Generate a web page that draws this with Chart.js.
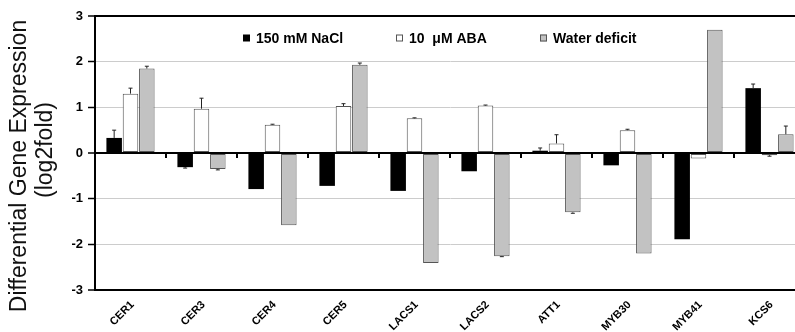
<!DOCTYPE html>
<html>
<head>
<meta charset="utf-8">
<script src="https://cdn.jsdelivr.net/npm/chart.js@4"></script>
<style>
html,body{margin:0;padding:0;overflow:hidden;background:#fff}
#wrap{width:810px;height:332px}
</style>
</head>
<body>
<div id="wrap"><canvas id="chart"></canvas></div>
<script>
const genes = ['CER1','CER3','CER4','CER5','LACS1','LACS2','ATT1','MYB30','MYB41','KCS6']
const seriesNames = ['150 mM NaCl', '10  \u03bcM ABA', 'Water deficit']

const nacl  = [0.33, -0.31, -0.79, -0.72, -0.83, -0.40, 0.05, -0.27, -1.89, 1.42]
const aba   = [1.30, 0.97, 0.62, 1.03, 0.76, 1.04, 0.21, 0.50, -0.12, -0.05]
const water = [1.85, -0.35, -1.58, 1.93, -2.41, -2.26, -1.30, -2.20, 2.70, 0.41]

const naclErr  = [0.17, 0.02, 0, 0, 0, 0, 0.06, 0, 0, 0.09]
const abaErr   = [0.12, 0.23, 0.01, 0.05, 0.01, 0.01, 0.19, 0.02, 0, 0.02]
const waterErr = [0.05, 0.02, 0, 0.04, 0, 0.01, 0.02, 0, 0, 0.18]

const yMin = -3, yMax = 3
const errs = [naclErr, abaErr, waterErr]

const font = 'Liberation Sans, Arial, sans-serif'

const extras = {
  id: 'extras',
  afterDatasetsDraw(chart) {
    const {ctx, chartArea, scales: {x, y}} = chart
    ctx.save()
    // error bars
    chart.data.datasets.forEach((ds, di) => {
      const meta = chart.getDatasetMeta(di)
      meta.data.forEach((bar, i) => {
        const v = ds.data[i], e = errs[di][i]
        if (!e) return
        const end = y.getPixelForValue(v + (v >= 0 ? e : -e))
        ctx.strokeStyle = '#222'
        ctx.lineWidth = 1
        ctx.beginPath()
        ctx.moveTo(bar.x, bar.y)
        ctx.lineTo(bar.x, end)
        ctx.moveTo(bar.x - 2, end)
        ctx.lineTo(bar.x + 2, end)
        ctx.stroke()
      })
    })
    // zero axis on top of bars
    const y0 = y.getPixelForValue(0)
    ctx.strokeStyle = '#000'
    ctx.lineWidth = 2
    ctx.beginPath()
    ctx.moveTo(chartArea.left, y0)
    ctx.lineTo(chartArea.right, y0)
    for (let i = 1; i < genes.length; i++) {
      const bx = (x.getPixelForValue(i - 1) + x.getPixelForValue(i)) / 2
      ctx.moveTo(bx, y0)
      ctx.lineTo(bx, y0 + 5)
    }
    ctx.stroke()
    ctx.restore()
  },
  afterDraw(chart) {
    const {ctx, chartArea, scales: {x}} = chart
    ctx.save()
    ctx.fillStyle = '#000'
    // category labels, rotated
    ctx.font = 'bold 11px ' + font
    ctx.textAlign = 'right'
    ctx.textBaseline = 'middle'
    genes.forEach((g, i) => {
      ctx.save()
      ctx.translate(x.getPixelForValue(i) + 2, chartArea.bottom + 13)
      ctx.rotate(-Math.PI / 4)
      ctx.fillText(g, 0, 0)
      ctx.restore()
    })
    // legend inside plot
    const lx = [243, 396, 540], ly = 38
    ctx.font = 'bold 14px ' + font
    ctx.textAlign = 'left'
    chart.data.datasets.forEach((ds, i) => {
      ctx.fillStyle = ds.backgroundColor
      ctx.fillRect(lx[i], ly - 3.5, 7, 7)
      if (ds.borderWidth) {
        ctx.strokeStyle = ds.borderColor
        ctx.lineWidth = 1
        ctx.strokeRect(lx[i] + 0.5, ly - 3, 6, 6)
      }
      ctx.fillStyle = '#000'
      ctx.fillText(ds.label, lx[i] + 13, ly + 1)
    })
    // y axis title
    ctx.font = '23px ' + font
    ctx.textAlign = 'center'
    ctx.fillStyle = '#111'
    ctx.save()
    ctx.translate(20, 166)
    ctx.rotate(-Math.PI / 2)
    ctx.fillText('Differential Gene Expression', 0, 0)
    ctx.restore()
    ctx.save()
    ctx.translate(46, 150)
    ctx.rotate(-Math.PI / 2)
    ctx.fillText('(log2fold)', 0, 0)
    ctx.restore()
    ctx.restore()
  }
}

new Chart(document.getElementById('chart'), {
  type: 'bar',
  data: {
    labels: genes,
    datasets: [
      {label: seriesNames[0], data: nacl, backgroundColor: '#000', borderWidth: 0},
      {label: seriesNames[1], data: aba, backgroundColor: '#fff', borderColor: '#555', borderWidth: 1, borderSkipped: false},
      {label: seriesNames[2], data: water, backgroundColor: '#c2c2c2', borderColor: '#555', borderWidth: 1, borderSkipped: false}
    ]
  },
  options: {
    responsive: true,
    maintainAspectRatio: false,
    animation: false,
    categoryPercentage: 0.69,
    barPercentage: 0.95,
    layout: {padding: {left: 0, top: 16, bottom: 42, right: 5}},
    plugins: {legend: {display: false}, tooltip: {enabled: false}},
    scales: {
      x: {display: false},
      y: {
        min: yMin,
        max: yMax,
        afterFit: s => { s.width = 95 },
        ticks: {stepSize: 1, padding: 5, color: '#000', font: {family: font, size: 13, weight: 'bold'}},
        grid: {
          tickLength: 7,
          tickColor: '#000',
          tickWidth: 1.5,
          color: c => (c.tick && (c.tick.value === 0 || Math.abs(c.tick.value) === 3)) ? '#000' : '#cccccc',
          lineWidth: c => (c.tick && (c.tick.value === 0 || Math.abs(c.tick.value) === 3)) ? 2 : 1
        },
        border: {color: '#000', width: 2}
      }
    }
  },
  plugins: [extras]
})
</script>
</body>
</html>
